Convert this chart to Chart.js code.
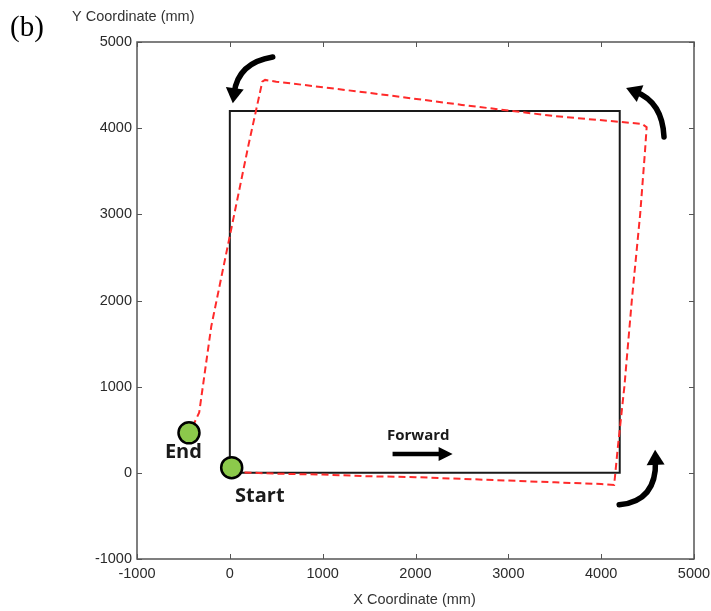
<!DOCTYPE html>
<html>
<head>
<meta charset="utf-8">
<script src="https://cdn.jsdelivr.net/npm/chart.js@4.4.1/dist/chart.umd.min.js"></script>
<style>
  html, body { margin: 0; padding: 0; background: #ffffff; }
  #wrap { width: 711px; height: 611px; }
</style>
</head>
<body>
<div id="wrap"><canvas id="c" width="711" height="611"></canvas></div>
<script>
// Axis ticks (mm)
const xTicks = [-1000, 0, 1000, 2000, 3000, 4000, 5000];
const yTicks = [-1000, 0, 1000, 2000, 3000, 4000, 5000];

// Planned square route (mm)
const planX = [0, 4200, 4200, 0, 0];
const planY = [0, 0, 4200, 4200, 0];

// Measured trajectory (mm)
const trajX = [40, 500, 1000, 1500, 2000, 2500, 3000, 3500, 4000, 4140, 4180, 4250, 4330, 4420, 4470, 4490, 4440, 3500, 2500, 1500, 500, 380, 350, 200, 0, -200, -330, -400];
const trajY = [10, -10, -20, -40, -50, -70, -90, -110, -130, -140, 300, 1000, 2000, 3000, 3700, 4010, 4050, 4140, 4270, 4410, 4540, 4560, 4540, 3800, 2750, 1700, 700, 540];

// Start / end markers (mm)
const startPt = { x: 20, y: 60 };
const endPt = { x: -440, y: 464 };

// Text annotations (mm)
const notes = [
  { text: 'End', x: -500, y: 244, size: 20 },
  { text: 'Start', x: 323, y: -278, size: 20 },
  { text: 'Forward', x: 2030, y: 430, size: 15 }
];

// Turn-direction arrows: tail, control, tip (mm)
const turnArrows = [
  { from: [462, 4826], ctrl: [90, 4760], to: [32, 4290] },
  { from: [4677, 3898], ctrl: [4660, 4300], to: [4269, 4466] },
  { from: [4194, -371], ctrl: [4600, -330], to: [4581, 267] }
];
const forwardArrow = { from: [1753, 220], to: [2400, 220] };

const toXY = (xs, ys) => xs.map((x, i) => ({ x: x, y: ys[i] }));

function drawArrowHead(ctx, tipX, tipY, ang, len, half) {
  ctx.beginPath();
  ctx.moveTo(tipX, tipY);
  ctx.lineTo(tipX - len * Math.cos(ang) + half * Math.sin(ang), tipY - len * Math.sin(ang) - half * Math.cos(ang));
  ctx.lineTo(tipX - len * Math.cos(ang) - half * Math.sin(ang), tipY - len * Math.sin(ang) + half * Math.cos(ang));
  ctx.closePath();
  ctx.fill();
}

const decor = {
  id: 'decor',
  afterDraw(chart) {
    const ctx = chart.ctx;
    const xs = chart.scales.x, ys = chart.scales.y;
    const a = chart.chartArea;
    const px = v => xs.getPixelForValue(v);
    const py = v => ys.getPixelForValue(v);
    ctx.save();

    // Frame and inward ticks
    ctx.strokeStyle = '#555555';
    ctx.lineWidth = 1.5;
    ctx.strokeRect(a.left, a.top, a.right - a.left, a.bottom - a.top);
    ctx.lineWidth = 1;
    const tl = 5;
    xTicks.forEach(v => {
      const x = Math.round(px(v)) + 0.5;
      ctx.beginPath();
      ctx.moveTo(x, a.bottom); ctx.lineTo(x, a.bottom - tl);
      ctx.moveTo(x, a.top); ctx.lineTo(x, a.top + tl);
      ctx.stroke();
    });
    yTicks.forEach(v => {
      const y = Math.round(py(v)) + 0.5;
      ctx.beginPath();
      ctx.moveTo(a.left, y); ctx.lineTo(a.left + tl, y);
      ctx.moveTo(a.right, y); ctx.lineTo(a.right - tl, y);
      ctx.stroke();
    });

    // Curved turn arrows
    ctx.strokeStyle = '#000000';
    ctx.fillStyle = '#000000';
    turnArrows.forEach(t => {
      const x0 = px(t.from[0]), y0 = py(t.from[1]);
      const cx = px(t.ctrl[0]), cy = py(t.ctrl[1]);
      const x1 = px(t.to[0]), y1 = py(t.to[1]);
      const ang = Math.atan2(y1 - cy, x1 - cx);
      const headLen = 15;
      const bx = x1 - headLen * 0.7 * Math.cos(ang), by = y1 - headLen * 0.7 * Math.sin(ang);
      ctx.lineWidth = 5.5;
      ctx.lineCap = 'round';
      ctx.beginPath();
      ctx.moveTo(x0, y0);
      ctx.quadraticCurveTo(cx, cy, bx, by);
      ctx.stroke();
      drawArrowHead(ctx, x1, y1, ang, headLen, 9);
    });

    // Forward arrow
    const fx0 = px(forwardArrow.from[0]), fy = py(forwardArrow.from[1]);
    const fx1 = px(forwardArrow.to[0]);
    ctx.lineWidth = 4.5;
    ctx.lineCap = 'butt';
    ctx.beginPath();
    ctx.moveTo(fx0, fy); ctx.lineTo(fx1 - 10, fy);
    ctx.stroke();
    drawArrowHead(ctx, fx1, fy, 0, 14, 7);

    // Labels
    ctx.fillStyle = '#1a1a1a';
    ctx.textAlign = 'center';
    ctx.textBaseline = 'middle';
    notes.forEach(n => {
      ctx.font = 'bold ' + n.size + 'px "Open Sans", "Liberation Sans", sans-serif';
      ctx.fillText(n.text, px(n.x), py(n.y));
    });

    // Panel tag and axis titles
    ctx.fillStyle = '#000000';
    ctx.textAlign = 'left';
    ctx.font = '29px "Liberation Serif", "DejaVu Serif", serif';
    ctx.fillText('(b)', 10, 28);
    ctx.fillStyle = '#333333';
    ctx.font = '14.5px "Liberation Sans", Arial, sans-serif';
    ctx.fillText('Y Coordinate (mm)', 72, 17);
    ctx.textAlign = 'center';
    ctx.fillText('X Coordinate (mm)', (a.left + a.right) / 2 - 1, 600);
    ctx.restore();
  }
};

const tickFont = { family: '"Liberation Sans", Arial, sans-serif', size: 14.5 };

new Chart(document.getElementById('c'), {
  type: 'scatter',
  data: {
    datasets: [
      {
        label: 'Planned',
        data: toXY(planX, planY),
        showLine: true,
        borderColor: '#1a1a1a',
        borderWidth: 2,
        pointRadius: 0,
        fill: false,
        order: 3
      },
      {
        label: 'Trajectory',
        data: toXY(trajX, trajY),
        showLine: true,
        borderColor: '#ff2a2a',
        borderWidth: 2,
        borderDash: [7, 4],
        pointRadius: 0,
        fill: false,
        order: 2
      },
      {
        label: 'Markers',
        data: [startPt, endPt],
        pointRadius: 10.5,
        pointHoverRadius: 10.5,
        pointBackgroundColor: '#8cc94b',
        pointBorderColor: '#000000',
        pointBorderWidth: 2.5,
        order: 1
      }
    ]
  },
  options: {
    responsive: false,
    animation: false,
    layout: { padding: { top: 42, right: 17, left: 0, bottom: 0 } },
    plugins: {
      legend: { display: false },
      tooltip: { enabled: false },
      title: { display: false }
    },
    scales: {
      x: {
        type: 'linear',
        min: -1000,
        max: 5000,
        afterBuildTicks: s => { s.ticks = xTicks.map(v => ({ value: v })); },
        afterFit: s => { s.height = 52; s.paddingLeft = 0; s.paddingRight = 0; },
        grid: { display: false, drawTicks: false },
        border: { display: false },
        ticks: {
          padding: 6,
          maxRotation: 0,
          autoSkip: false,
          color: '#2a2a2a',
          font: tickFont,
          callback: v => String(v)
        }
      },
      y: {
        type: 'linear',
        min: -1000,
        max: 5000,
        afterBuildTicks: s => { s.ticks = yTicks.map(v => ({ value: v })); },
        afterFit: s => { s.width = 137; s.paddingTop = 0; s.paddingBottom = 0; },
        grid: { display: false, drawTicks: false },
        border: { display: false },
        ticks: {
          padding: 5,
          autoSkip: false,
          color: '#2a2a2a',
          font: tickFont,
          callback: v => String(v)
        }
      }
    }
  },
  plugins: [decor]
});
</script>
</body>
</html>
